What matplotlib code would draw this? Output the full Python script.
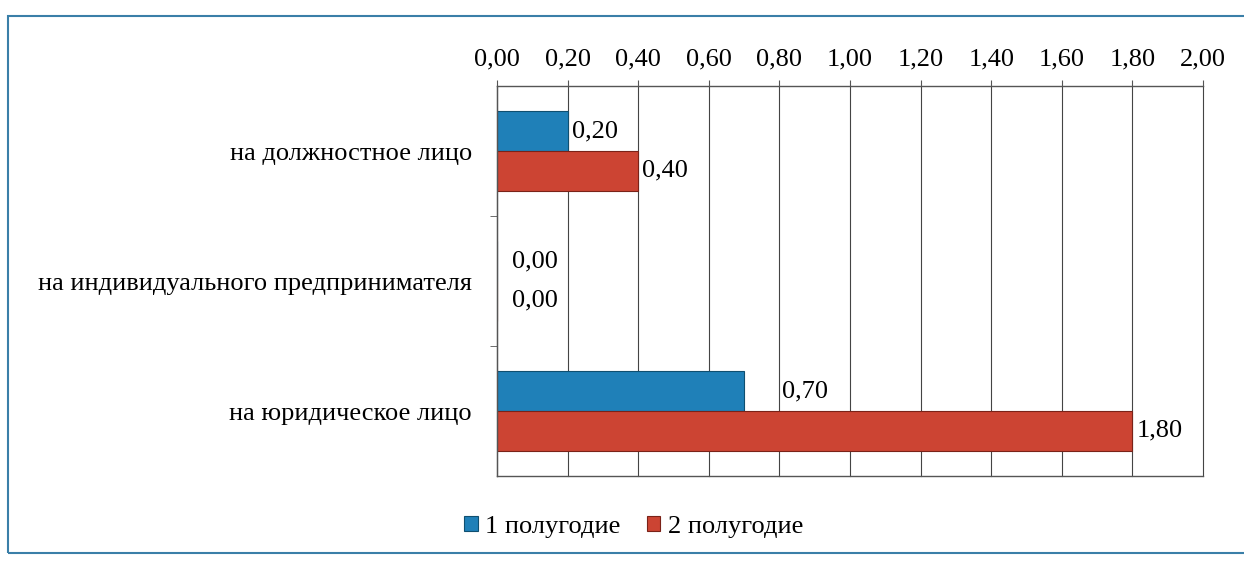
import matplotlib
matplotlib.use("Agg")
import matplotlib.pyplot as plt
from matplotlib.patches import Rectangle
import numpy as np

categories = ["на должностное лицо", "на индивидуального предпринимателя", "на юридическое лицо"]
series_names = ["1 полугодие", "2 полугодие"]
h1 = [0.20, 0.00, 0.70]
h2 = [0.40, 0.00, 1.80]
xticks = [0.0, 0.2, 0.4, 0.6, 0.8, 1.0, 1.2, 1.4, 1.6, 1.8, 2.0]

blue = "#1f80b8"
red = "#cc4433"
font = "Liberation Serif"
plt.rcParams["font.family"] = [font, "DejaVu Serif"]
fs = 19

fig = plt.figure(figsize=(12.44, 5.61), dpi=100)
ax = fig.add_axes([497/1244, 1-476/561, (1203-497)/1244, (476-86)/561])

y = np.arange(len(categories))
bh = 0.305
b1 = ax.barh(y - bh/2, h1, height=bh, color=blue, edgecolor="#0f4f70", linewidth=0.8, label=series_names[0])
b2 = ax.barh(y + bh/2, h2, height=bh, color=red, edgecolor="#7a2218", linewidth=0.8, label=series_names[1])

def fmt(v):
    return f"{v:.2f}".replace(".", ",")

for bars, vals in ((b1, h1), (b2, h2)):
    for rect, v in zip(bars, vals):
        cy = rect.get_y() + rect.get_height()/2
        off = 27 if v == 0.70 else 3
        if v == 0:
            off = 11
        ax.annotate(fmt(v), (v, cy), xytext=(off, 0), textcoords="offset points",
                    ha="left", va="center", fontsize=fs)

ax.set_xlim(0, 2.0)
ax.set_ylim(2.5, -0.5)
ax.set_xticks(xticks)
ax.set_xticklabels([fmt(t) for t in xticks], fontsize=fs)
ax.xaxis.tick_top()
ax.tick_params(axis="x", length=4, color="#555555", pad=7)
ax.set_yticks(y)
ax.set_yticklabels(categories, fontsize=fs)
ax.tick_params(axis="y", length=0, pad=18)
ax.set_yticks([0.5, 1.5], minor=True)
ax.tick_params(axis="y", which="minor", length=5, color="#555555")
ax.grid(axis="x", color="#444444", linewidth=0.8)
for gl in ax.get_xgridlines():
    gl.set_clip_on(False)
ax.set_axisbelow(True)
for s in ("left", "top", "bottom"):
    ax.spines[s].set_color("#555555")
    ax.spines[s].set_linewidth(1.0)
ax.spines["right"].set_visible(False)

fig.legend(handles=[b1, b2], labels=series_names, loc="center", bbox_to_anchor=(634/1244, 1-527/561),
           ncol=2, frameon=False, fontsize=fs, handlelength=0.5, handleheight=0.5,
           handletextpad=0.3, columnspacing=1.0)

fig.patches.append(Rectangle((8/1244, 8/561), 1240/1244, 537/561, transform=fig.transFigure,
                             fill=False, edgecolor="#3a7fa8", linewidth=1.5))

fig.savefig("out.png", dpi=100)
